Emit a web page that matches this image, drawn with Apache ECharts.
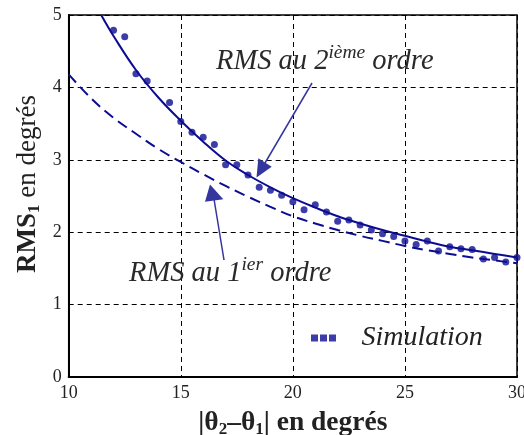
<!DOCTYPE html>
<html>
<head>
<meta charset="utf-8">
<script src="https://cdn.jsdelivr.net/npm/echarts@6/dist/echarts.min.js"></script>
<style>
  html, body { margin: 0; padding: 0; background: #fff; }
  #chart { width: 524px; height: 435px; }
</style>
</head>
<body>
<div id="chart"></div>
<script>
// Measured RMS (simulation points), angle difference in degrees
const simX = [12, 12.5, 13, 13.5, 14.5, 15, 15.5, 16, 16.5, 17, 17.5, 18, 18.5, 19, 19.5,
              20, 20.5, 21, 21.5, 22, 22.5, 23, 23.5, 24, 24.5, 25, 25.5, 26, 26.5,
              27, 27.5, 28, 28.5, 29, 29.5, 30];
const simY = [4.79, 4.70, 4.19, 4.09, 3.79, 3.53, 3.38, 3.31, 3.21, 2.93, 2.93, 2.79, 2.62, 2.58, 2.51,
              2.42, 2.31, 2.38, 2.28, 2.15, 2.17, 2.10, 2.03, 1.98, 1.94, 1.88, 1.83, 1.88, 1.74,
              1.80, 1.77, 1.76, 1.63, 1.65, 1.59, 1.65];

// Second-order RMS approximation (solid curve)
const order2X = [11.45, 12, 13, 14, 15, 16, 17, 18, 19, 20, 21, 22, 23, 24, 25, 26, 27, 28, 29, 30];
const order2Y = [5.0, 4.71, 4.24, 3.86, 3.54, 3.25, 2.99, 2.79, 2.62, 2.47, 2.34, 2.22, 2.12, 2.03, 1.95, 1.87, 1.80, 1.75, 1.70, 1.65];

// First-order RMS approximation (dashed curve)
const order1X = [10, 11, 12, 13, 14, 15, 16, 17, 18, 19, 20, 21, 22, 23, 24, 25, 26, 27, 28, 29, 30];
const order1Y = [4.18, 3.85, 3.58, 3.36, 3.15, 2.97, 2.80, 2.64, 2.49, 2.35, 2.22, 2.12, 2.03, 1.95, 1.88, 1.81, 1.75, 1.70, 1.65, 1.61, 1.57];

const xTicks = [10, 15, 20, 25, 30];
const yTicks = [0, 1, 2, 3, 4, 5];

const zip = (xs, ys) => xs.map((x, i) => [x, ys[i]]);

const serif = '"Liberation Serif", "DejaVu Serif", serif';
const navy = '#0c0c92';
const arrowBlue = '#35359f';
const ink = '#222';
const swatch = 'path://M0,0h7v7h-7z M9,0h7v7h-7z M18,0h7v7h-7z';

const chart = echarts.init(document.getElementById('chart'), null, { renderer: 'canvas' });

const labelRich = {
  t: { fontFamily: serif, fontStyle: 'italic', fontSize: 28.5, fill: '#2a2a2a', verticalAlign: 'bottom' },
  s: { fontFamily: serif, fontStyle: 'italic', fontSize: 19.5, fill: '#2a2a2a', padding: [0, 0, 13, 0], verticalAlign: 'bottom' }
};

chart.setOption({
  animation: false,
  backgroundColor: '#fff',
  grid: {
    show: true, borderColor: '#000', borderWidth: 1.5, backgroundColor: 'transparent',
    left: 68.7, top: 15, right: 7, bottom: 58,
    containLabel: false, outerBoundsMode: 'none'
  },
  legend: {
    data: [{ name: 'Simulation', icon: swatch }],
    left: 306, top: 319,
    itemWidth: 26, itemHeight: 7,
    selectedMode: false,
    textStyle: { fontFamily: serif, fontStyle: 'italic', fontSize: 28, color: ink, padding: [0, 0, 0, 20] }
  },
  xAxis: {
    type: 'value', min: xTicks[0], max: xTicks[xTicks.length - 1], interval: 5,
    axisLine: { lineStyle: { color: '#000', width: 2 } },
    axisTick: { show: false },
    splitLine: { show: true, lineStyle: { color: '#000', width: 1, type: [5, 4] } },
    axisLabel: { fontFamily: serif, fontSize: 18, color: ink, margin: 7,
      formatter: v => xTicks.includes(v) ? String(v) : '' },
    name: '{b|\u007Cθ}{sub|2}{b|\u2013θ}{sub|1}{b|\u007C en degrés}',
    nameLocation: 'middle', nameGap: 31,
    nameTextStyle: {
      rich: {
        b: { fontFamily: serif, fontWeight: 'bold', fontSize: 27.5, color: ink },
        sub: { fontFamily: serif, fontWeight: 'bold', fontSize: 17, color: ink, padding: [13, 0, 0, 0] }
      }
    }
  },
  yAxis: {
    type: 'value', min: yTicks[0], max: yTicks[yTicks.length - 1], interval: 1,
    axisLine: { lineStyle: { color: '#000', width: 2 } },
    axisTick: { show: false },
    splitLine: { show: true, lineStyle: { color: '#000', width: 1, type: [5, 4] } },
    axisLabel: { fontFamily: serif, fontSize: 18, color: ink, margin: 7,
      formatter: v => yTicks.includes(v) ? String(v) : '' }
  },
  series: [
    {
      name: 'RMS 2', type: 'line', data: zip(order2X, order2Y),
      smooth: 0.4, showSymbol: false, silent: true, clip: true,
      lineStyle: { color: navy, width: 2 }, z: 3
    },
    {
      name: 'RMS 1', type: 'line', data: zip(order1X, order1Y),
      smooth: 0.4, showSymbol: false, silent: true, clip: true,
      lineStyle: { color: navy, width: 2, type: [11, 6] }, z: 3
    },
    {
      name: 'Simulation', type: 'scatter', data: zip(simX, simY),
      symbol: 'circle', symbolSize: 7, itemStyle: { color: navy }, z: 4,
      legendIcon: swatch
    }
  ],
  graphic: [
    // vertical axis title
    {
      type: 'text', x: 28, y: 184, rotation: Math.PI / 2, z: 10,
      style: {
        text: '{b|RMS}{sub|1}{n| en degrés}',
        align: 'center', verticalAlign: 'middle',
        rich: {
          b: { fontFamily: serif, fontWeight: 'bold', fontSize: 27, fill: ink },
          sub: { fontFamily: serif, fontWeight: 'bold', fontSize: 17, fill: ink, padding: [13, 0, 0, 0] },
          n: { fontFamily: serif, fontSize: 27, fill: ink }
        }
      }
    },
    // labels for the two approximations
    {
      type: 'text', left: 216, top: 43, z: 10,
      style: { text: '{t|RMS au 2}{s|ième}{t| ordre}', rich: labelRich }
    },
    {
      type: 'text', left: 129, top: 255, z: 10,
      style: { text: '{t|RMS au 1}{s|ier}{t| ordre}', rich: labelRich }
    },
    // pointer arrows
    { type: 'line', z: 10, shape: { x1: 312, y1: 83, x2: 265, y2: 163 }, style: { stroke: arrowBlue, lineWidth: 1.5 } },
    { type: 'polygon', z: 10, shape: { points: [[256.5, 177.5], [258.3, 158.3], [271.7, 166.7]] }, style: { fill: arrowBlue } },
    { type: 'line', z: 10, shape: { x1: 224, y1: 260, x2: 214, y2: 199 }, style: { stroke: arrowBlue, lineWidth: 1.5 } },
    { type: 'polygon', z: 10, shape: { points: [[210, 184.5], [205, 201.7], [223.3, 199.3]] }, style: { fill: arrowBlue } }
  ]
});
</script>
</body>
</html>
